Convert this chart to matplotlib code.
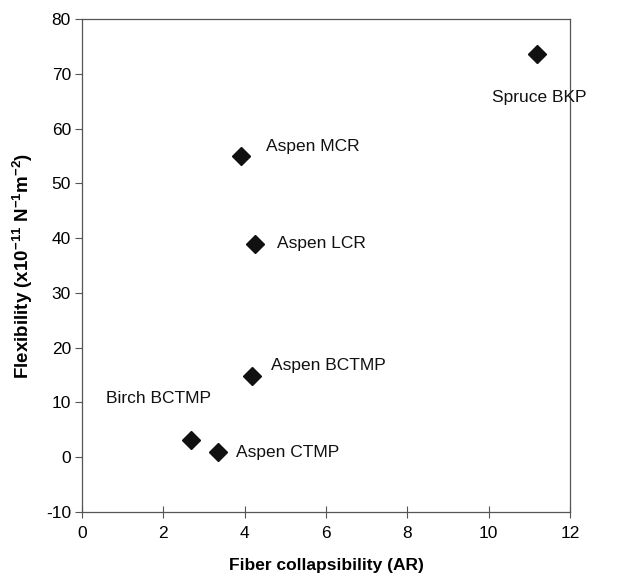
import matplotlib
matplotlib.use("Agg")
import matplotlib.pyplot as plt

plt.rcParams['font.family'] = ['Liberation Sans', 'DejaVu Sans']
plt.rcParams['mathtext.fontset'] = 'custom'
plt.rcParams['mathtext.rm'] = 'Liberation Sans:bold'
plt.rcParams['mathtext.bf'] = 'Liberation Sans:bold'
plt.rcParams['mathtext.it'] = 'Liberation Sans:bold'
plt.rcParams['axes.unicode_minus'] = False

# Pulp samples: fiber collapsibility vs. flexibility
samples = ["Spruce BKP", "Aspen MCR", "Aspen LCR", "Aspen BCTMP", "Birch BCTMP", "Aspen CTMP"]
collapsibility = [11.2, 3.9, 4.25, 4.18, 2.69, 3.34]
flexibility = [73.6, 54.9, 39.0, 14.9, 3.1, 0.9]

# label offsets (points) relative to each marker, with horizontal alignment
label_offsets = {
    "Spruce BKP": ((1, -31), "center"),
    "Aspen MCR": ((18, 7), "left"),
    "Aspen LCR": ((16, 0), "left"),
    "Aspen BCTMP": ((14, 7), "left"),
    "Birch BCTMP": ((-24, 30), "center"),
    "Aspen CTMP": ((13, 0), "left"),
}

x_ticks = [0, 2, 4, 6, 8, 10, 12]
y_ticks = [-10, 0, 10, 20, 30, 40, 50, 60, 70, 80]

fig = plt.figure(figsize=(6.32, 5.79), dpi=100)
ax = fig.add_axes([82 / 632, (579 - 512) / 579, (570 - 82) / 632, (512 - 19) / 579])

ax.plot(collapsibility, flexibility, linestyle="none", marker="D",
        markersize=9.5, color="#111111")

for name, x, y in zip(samples, collapsibility, flexibility):
    (dx, dy), ha = label_offsets[name]
    ax.annotate(name, (x, y), xytext=(dx, dy), textcoords="offset points",
                ha=ha, va="center", fontsize=12.5, color="#111111")

ax.set_xlim(0, 12)
ax.set_ylim(-10, 80)
ax.set_xticks(x_ticks)
ax.set_yticks(y_ticks)
ax.tick_params(axis="x", direction="inout", length=8, width=0.8, color="#555555",
               labelsize=12.5, pad=6)
ax.tick_params(axis="y", direction="out", length=5, width=0.8, color="#555555",
               labelsize=12.5, pad=3)
for sp in ax.spines.values():
    sp.set_color("#555555")
    sp.set_linewidth(0.9)

ax.set_xlabel("Fiber collapsibility (AR)", fontsize=12.5, fontweight="bold", labelpad=12)
ax.set_ylabel(r"Flexibility (x10$^{-11}$ N$^{-1}$m$^{-2}$)", fontsize=13.5,
              fontweight="bold", labelpad=8)

fig.savefig("out.png", dpi=100)
